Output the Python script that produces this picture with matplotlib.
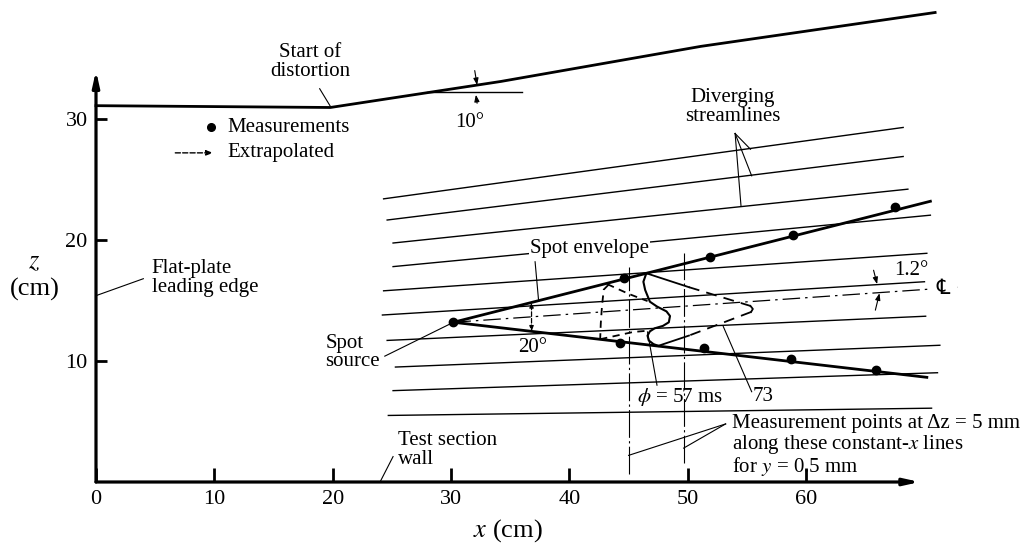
import matplotlib
matplotlib.use('Agg')
import matplotlib.pyplot as plt

plt.rcParams['font.family'] = ['Liberation Serif', 'DejaVu Serif']
plt.rcParams['mathtext.fontset'] = 'stix'

# ---- datos (cm) ----
wall_x = [0, 19.8, 34.2, 51.1, 70.9]
wall_z = [31.1, 30.95, 33.1, 36.0, 38.8]

# lineas de corriente: inicio y fin
stream_x0 = [24.3, 24.6, 25.1, 25.1, 24.3, 24.2, 24.6, 25.3, 25.1, 24.7]
stream_z0 = [23.4, 21.65, 19.75, 17.8, 15.8, 13.8, 11.7, 9.5, 7.55, 5.5]
stream_x1 = [68.2, 68.2, 68.6, 70.5, 70.2, 70.0, 70.1, 71.3, 71.1, 70.6]
stream_z1 = [29.3, 26.9, 24.2, 22.05, 18.9, 16.55, 13.7, 11.3, 9.03, 6.1]

source_x, source_z = 30.2, 13.2
upper_env_x = [30.2, 70.5]
upper_env_z = [13.2, 23.2]
lower_env_x = [30.2, 70.2]
lower_env_z = [13.2, 8.65]
center_x = [30.2, 72.8]
center_z = [13.2, 16.1]

upper_meas_x = [44.6, 51.9, 58.9, 67.5]
upper_meas_z = [16.9, 18.6, 20.4, 22.75]
lower_meas_x = [44.3, 51.4, 58.7, 65.9]
lower_meas_z = [11.46, 11.05, 10.2, 9.26]

# contorno a 57 ms
wave_x = [46.5, 46.25, 46.4, 46.8, 47.4, 48.2, 48.5, 48.4, 47.9, 47.2, 46.8, 46.6, 46.7, 47.1, 47.5]
wave_z = [17.25, 16.55, 15.87, 14.9, 14.5, 14.1, 13.72, 13.2, 12.9, 12.7, 12.45, 12.1, 11.7, 11.4, 11.25]

# frente (73)
front_up_solid_x = [46.5, 50.1]
front_up_solid_z = [17.25, 16.1]
front_up_dash_x = [50.1, 55.3]
front_up_dash_z = [16.1, 14.55]
front_tip_x = [55.3, 55.5, 55.35]
front_tip_z = [14.55, 14.3, 14.05]
front_lo_dash_x = [55.35, 50.1]
front_lo_dash_z = [14.05, 12.1]
front_lo_solid_x = [50.1, 47.5]
front_lo_solid_z = [12.1, 11.25]

# parte trasera extrapolada
rear_x = [43.3, 42.9, 42.75, 42.65, 42.6]
rear_z = [16.3, 15.9, 14.5, 13.1, 11.8]
rear_up_x = [43.2, 45.0, 46.6]
rear_up_z = [16.35, 15.55, 14.95]
rear_lo_x = [42.6, 45.4, 46.6]
rear_lo_z = [11.8, 12.4, 12.5]

# lineas de x constante
meas_line_x = [45.0, 49.65]
meas_line_top = [17.8, 18.9]
meas_line_bot = [0.7, 1.6]

xticks = [0, 10, 20, 30, 40, 50, 60]
zticks = [10, 20, 30]

FS = 15

fig = plt.figure(figsize=(10.34, 5.43), dpi=100)
ax = fig.add_axes([96 / 1034, 61 / 543, 819 / 1034, 409 / 543])
ax.set_xlim(0, 69.2)
ax.set_ylim(0, 33.8)
for s in ax.spines.values():
    s.set_visible(False)

ax.set_xticks(xticks)
ax.set_yticks(zticks)
ax.tick_params(axis='x', direction='in', length=10, width=2, pad=6, labelsize=16)
ax.tick_params(axis='y', direction='in', length=8, width=2, pad=6, labelsize=16)

# ejes con flecha
arr = dict(arrowstyle='-|>,head_length=0.9,head_width=0.2', lw=2.3, color='k',
           shrinkA=0, shrinkB=0)
ax.annotate('', xy=(69.6, 0), xytext=(0, 0), arrowprops=arr, annotation_clip=False)
ax.annotate('', xy=(0, 34.0), xytext=(0, 0), arrowprops=arr, annotation_clip=False)

ax.text(34.8, -4.0, r'$x$ (cm)', fontsize=19, ha='center', va='center')
ax.text(-5.2, 18.2, r'$z$', fontsize=19, ha='center', va='center')
ax.text(-5.2, 15.9, '(cm)', fontsize=19, ha='center', va='center')

# pared superior
ax.plot(wall_x, wall_z, color='k', lw=2.0, clip_on=False)
ax.plot([28.0, 36.0], [32.2, 32.2], color='k', lw=1.0, clip_on=False)
small = dict(arrowstyle='-|>,head_length=0.4,head_width=0.15', lw=0.8, color='k',
             shrinkA=0, shrinkB=0)
ax.annotate('', xy=(32.2, 32.8), xytext=(32.0, 34.0), arrowprops=small, annotation_clip=False)
ax.annotate('', xy=(32.1, 32.0), xytext=(32.2, 31.3), arrowprops=small, annotation_clip=False)
ax.text(31.6, 29.75, '10°', fontsize=FS, ha='center', va='center')
ax.text(18.1, 34.7, 'Start of\ndistortion', fontsize=FS, ha='center', va='center',
        linespacing=0.95)
ax.plot([18.9, 19.8], [32.5, 31.05], color='k', lw=0.8)

# leyenda
ax.plot([9.7], [29.3], 'o', color='k', ms=5.5)
ax.text(11.1, 29.3, 'Measurements', fontsize=FS, va='center')
ax.annotate('', xy=(9.9, 27.2), xytext=(6.7, 27.2),
            arrowprops=dict(arrowstyle='-|>,head_length=0.4,head_width=0.15', lw=1.0,
                            ls='--', color='k', shrinkA=0, shrinkB=0))
ax.text(11.1, 27.2, 'Extrapolated', fontsize=FS, va='center')

# lineas de corriente
for x0, z0, x1, z1 in zip(stream_x0, stream_z0, stream_x1, stream_z1):
    ax.plot([x0, x1], [z0, z1], color='k', lw=1.0, clip_on=False)

ax.text(53.8, 31.0, 'Diverging\nstreamlines', fontsize=FS, ha='center', va='center',
        linespacing=0.95)
for px, pz in [(55.3, 27.5), (55.4, 25.3), (54.5, 22.8)]:
    ax.plot([54.0, px], [28.8, pz], color='k', lw=0.8)

# envolvente del spot
ax.plot(upper_env_x, upper_env_z, color='k', lw=2.0, clip_on=False)
ax.plot(lower_env_x, lower_env_z, color='k', lw=2.0, clip_on=False)
ax.plot(center_x, center_z, color='k', lw=0.9, ls=(0, (14, 4, 2, 4)), clip_on=False)
ax.text(71.6, 16.05, '℄', fontsize=15, ha='center', va='center',
        family=['DejaVu Sans', 'STIXGeneral'], backgroundcolor='white')
ax.plot([source_x], [source_z], 'o', color='k', ms=6)
ax.plot(upper_meas_x, upper_meas_z, 'o', color='k', ms=6)
ax.plot(lower_meas_x, lower_meas_z, 'o', color='k', ms=6)

ax.text(41.7, 19.3, 'Spot envelope', fontsize=FS, ha='center', va='center',
        bbox=dict(facecolor='white', edgecolor='none', pad=0.5))
ax.plot([37.1, 37.4], [18.2, 14.95], color='k', lw=0.8)

# 20 grados
ax.annotate('', xy=(36.8, 14.85), xytext=(36.8, 12.45),
            arrowprops=dict(arrowstyle='<|-|>,head_length=0.3,head_width=0.12', lw=0.9,
                            ls='--', color='k', shrinkA=0, shrinkB=0))
ax.text(36.9, 11.1, '20°', fontsize=FS, ha='center', va='center')

# 1.2 grados
ax.annotate('', xy=(66.0, 16.35), xytext=(65.7, 17.5), arrowprops=small)
ax.annotate('', xy=(66.2, 15.6), xytext=(65.85, 14.2), arrowprops=small)
ax.text(67.4, 17.5, '1.2°', fontsize=FS, ha='left', va='center')

# fuente del spot
ax.text(19.4, 10.7, 'Spot\nsource', fontsize=FS, ha='left', va='center', linespacing=0.95)
ax.plot([24.4, 30.1], [10.4, 13.15], color='k', lw=0.8)

# borde de ataque
ax.text(4.7, 16.85, 'Flat-plate\nleading edge', fontsize=FS, ha='left', va='center',
        linespacing=0.95)
ax.plot([0, 4.0], [15.4, 16.8], color='k', lw=0.8)

# pared de la seccion de ensayo
ax.text(25.5, 2.65, 'Test section\nwall', fontsize=FS, ha='left', va='center',
        linespacing=0.95)
ax.plot([24.0, 25.1], [0.0, 2.1], color='k', lw=0.8)

# contornos del spot
ax.plot(wave_x, wave_z, color='k', lw=1.5)
ax.plot(front_up_solid_x, front_up_solid_z, color='k', lw=1.3)
ax.plot(front_up_dash_x, front_up_dash_z, color='k', lw=1.3, ls=(0, (6, 4)))
ax.plot(front_tip_x, front_tip_z, color='k', lw=1.3)
ax.plot(front_lo_dash_x, front_lo_dash_z, color='k', lw=1.3, ls=(0, (6, 4)))
ax.plot(front_lo_solid_x, front_lo_solid_z, color='k', lw=1.3)
ax.plot(rear_x, rear_z, color='k', lw=1.3, ls=(0, (4, 3)))
ax.plot(rear_up_x, rear_up_z, color='k', lw=1.3, ls=(0, (4, 3)))
ax.plot(rear_lo_x, rear_lo_z, color='k', lw=1.3, ls=(0, (4, 3)))

# lineas de medicion
for mx, top, bot in zip(meas_line_x, meas_line_top, meas_line_bot):
    ax.plot([mx, mx], [bot, top], color='k', lw=0.8, ls=(0, (25, 3, 2, 3)))

ax.text(49.3, 7.05, r'$\phi$ = 57 ms', fontsize=FS, ha='center', va='center')
ax.plot([47.4, 46.6], [8.0, 12.4], color='k', lw=0.8)
ax.text(56.4, 7.05, '73', fontsize=FS, ha='center', va='center')
ax.plot([55.4, 53.0], [7.46, 12.85], color='k', lw=0.8)

ax.text(53.7, 4.85, 'Measurement points at Δz = 5 mm', fontsize=FS, ha='left', va='center')
ax.text(53.7, 3.06, r'along these constant-$x$ lines', fontsize=FS, ha='left', va='center')
ax.text(53.7, 1.26, r'for $y$ = 0.5 mm', fontsize=FS, ha='left', va='center')
ax.plot([53.2, 45.0], [4.8, 2.2], color='k', lw=0.8)
ax.plot([53.2, 49.65], [4.8, 2.8], color='k', lw=0.8)

fig.savefig('out.png', dpi=100)
